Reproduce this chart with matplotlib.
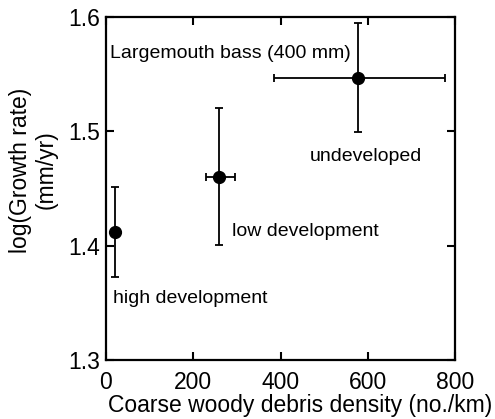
import numpy as np
import matplotlib
matplotlib.use("Agg")
import matplotlib.pyplot as plt

plt.rcParams['font.family'] = ['Liberation Sans', 'DejaVu Sans']

# data
sites = ['high development', 'low development', 'undeveloped']
cwd = [20, 260, 578]
cwd_lo = [0, 31, 192]
cwd_hi = [0, 36, 199]
growth = [1.412, 1.460, 1.547]
growth_lo = [0.039, 0.059, 0.048]
growth_hi = [0.039, 0.060, 0.048]

# label anchors (data coords)
label_x = [16, 289, 468]
label_y = [1.354, 1.412, 1.478]

fig = plt.figure(figsize=(4.95, 4.19), dpi=100)
ax = fig.add_axes([106/495, 1 - 360/419, 349/495, 343/419])

ax.errorbar(cwd, growth, xerr=[cwd_lo, cwd_hi], yerr=[growth_lo, growth_hi],
            fmt='o', color='black', ms=8.5, elinewidth=1.3, capsize=3, capthick=1.3)

for s, lx, ly in zip(sites, label_x, label_y):
    ax.text(lx, ly, s, fontsize=14, va='center', ha='left')
ax.text(9, 1.5685, 'Largemouth bass (400 mm)', fontsize=14, va='center', ha='left')

ax.set_xlim(0, 800)
ax.set_ylim(1.3, 1.6)
ax.set_xticks([0, 200, 400, 600, 800])
ax.set_yticks([1.3, 1.4, 1.5, 1.6])
ax.set_yticklabels(['1.3', '1.4', '1.5', '1.6'])
ax.tick_params(direction='in', top=True, right=True, length=6, width=1.5,
               labelsize=16.5)
ax.tick_params(axis='x', pad=8)
ax.tick_params(axis='y', pad=4)
for sp in ax.spines.values():
    sp.set_linewidth(1.6)

ax.set_xlabel('Coarse woody debris density (no./km)', fontsize=16.5)
ax.set_ylabel('log(Growth rate)\n(mm/yr)', fontsize=16.5, linespacing=1.1)
ax.xaxis.set_label_coords(0.556, -0.1)
ax.yaxis.set_label_coords(-0.14, 0.554)

fig.savefig('out.png', dpi=100)
